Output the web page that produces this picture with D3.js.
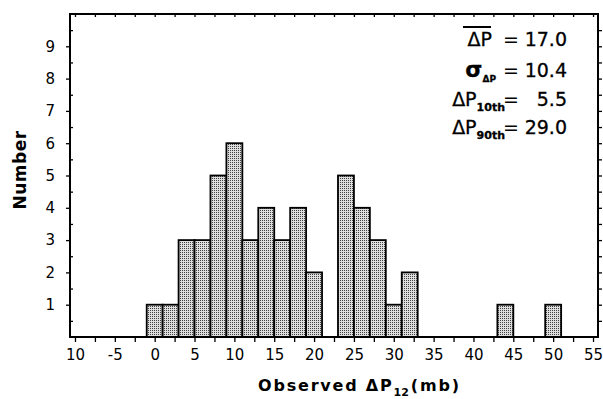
<!DOCTYPE html>
<html>
<head>
<meta charset="utf-8">
<script src="https://cdn.jsdelivr.net/npm/d3@7"></script>
<style>
  body { margin: 0; background: #fff; }
  svg { display: block; }
</style>
</head>
<body>
<script>
// histogram bins (lower edge, each bin is 2 mb wide) and counts
var binLo  = [-1, 1, 3, 5, 7, 9, 11, 13, 15, 17, 19, 23, 25, 27, 29, 31, 43, 49];
var counts = [ 1, 1, 3, 3, 5, 6,  3,  4,  3,  4,  2,  5,  4,  3,  1,  2,  1,  1];
var binWidth = 2;

var xTickValues = [-10, -5, 0, 5, 10, 15, 20, 25, 30, 35, 40, 45, 50, 55];
var xTickLabels = ['10', '-5', '0', '5', '10', '15', '20', '25', '30', '35', '40', '45', '50', '55']; // first one has no minus in the original
var yTickValues = [1, 2, 3, 4, 5, 6, 7, 8, 9];

// stats box
var statNames  = ['\u0394P', '\u03C3', '\u0394P', '\u0394P'];
var statSubs   = ['', '\u0394P', '10th', '90th'];
var statValues = ['17.0', '10.4', '5.5', '29.0'];

var W = 603, H = 399;
var plotL = 70, plotR = 598, plotT = 14, plotB = 337;  // (window.top is reserved, so no "top" here)

var svg = d3.select('body').append('svg').attr('width', W).attr('height', H)

var x = d3.scaleLinear().domain([-10.625, 55.625]).range([plotL, plotR])
var y = d3.scaleLinear().domain([0, 10]).range([plotB, plotT])

// stipple fill for the bars
var pat = svg.append('defs').append('pattern')
  .attr('id', 'stipple')
  .attr('patternUnits', 'userSpaceOnUse')
  .attr('width', 2).attr('height', 2)
pat.append('rect').attr('width', 2).attr('height', 2).attr('fill', '#dedede')
pat.append('rect').attr('width', 1).attr('height', 1).attr('fill', '#404040')

// bars
svg.selectAll('rect.bar')
  .data(binLo)
  .enter().append('rect')
    .attr('class', 'bar')
    .attr('x', d => x(d))
    .attr('width', d => x(d + binWidth) - x(d))
    .attr('y', (d, i) => y(counts[i]))
    .attr('height', (d, i) => y(0) - y(counts[i]))
    .attr('fill', 'url(#stipple)')
    .attr('stroke', '#000')
    .attr('stroke-width', 1.8)

// axes (ticks only, the frame is drawn separately)
var tickFont = 'DejaVu Sans, sans-serif';

svg.append('g')
  .attr('transform', `translate(0, ${plotB})`)
  .call(d3.axisBottom(x).tickValues(xTickValues).tickFormat((d, i) => xTickLabels[i]).tickSize(5).tickPadding(7))
svg.append('g')
  .attr('transform', `translate(0, ${plotB})`)
  .call(d3.axisBottom(x).tickValues(d3.range(-7.5, 55, 5)).tickFormat('').tickSize(5))
svg.append('g')
  .attr('transform', `translate(0, ${plotT})`)
  .call(d3.axisBottom(x).tickValues(d3.range(-10, 55.1, 2.5)).tickFormat('').tickSize(3))

svg.append('g')
  .attr('transform', `translate(${plotL}, 0)`)
  .call(d3.axisLeft(y).tickValues(yTickValues).tickSize(4).tickPadding(11))
svg.append('g')
  .attr('transform', `translate(${plotL}, 0)`)
  .call(d3.axisRight(y).tickValues(d3.range(0.5, 10, 1)).tickFormat('').tickSize(3))
svg.append('g')
  .attr('transform', `translate(${plotR}, 0)`)
  .call(d3.axisRight(y).tickValues(d3.range(0.5, 10, 0.5)).tickFormat('').tickSize(4))

svg.selectAll('.domain').remove()
svg.selectAll('.tick line').attr('stroke', '#000').attr('stroke-width', 1.3)
svg.selectAll('.tick text')
  .attr('font-family', tickFont)
  .attr('font-size', 15)
  .attr('fill', '#000')

// frame
svg.append('rect')
  .attr('x', plotL).attr('y', plotT)
  .attr('width', plotR - plotL).attr('height', plotB - plotT)
  .attr('fill', 'none')
  .attr('stroke', '#000')
  .attr('stroke-width', 2)

// axis titles
svg.append('text')
  .attr('transform', 'translate(20, 170) rotate(-90)')
  .attr('text-anchor', 'middle')
  .attr('dominant-baseline', 'central')
  .attr('font-family', tickFont)
  .attr('font-weight', 'bold')
  .attr('font-size', 17)
  .attr('letter-spacing', 0.5)
  .text('Number')

var xt = svg.append('text')
  .attr('x', 258).attr('y', 391)
  .attr('font-family', tickFont)
  .attr('font-weight', 'bold')
  .attr('font-size', 16)
  .attr('letter-spacing', 1.8)
xt.append('tspan').text('Observed \u0394P')
xt.append('tspan').attr('font-size', 11).attr('dy', 5).attr('letter-spacing', 0).text('12')
xt.append('tspan').attr('dy', -5).attr('dx', 2).text('(mb)')

// stats box
var lineY = [46, 77, 106, 134];
var nameEnd = [492, 496, 505, 505];
var eqX = 511, valEnd = 567;

statNames.forEach((n, i) => {
  var t = svg.append('text')
    .attr('x', nameEnd[i]).attr('y', lineY[i])
    .attr('text-anchor', 'end')
    .attr('font-family', tickFont)
    .attr('font-size', 19)
    .attr('stroke', '#000').attr('stroke-width', 0.3)
  t.append('tspan').attr('font-size', i == 1 ? 22 : 19).attr('font-weight', i == 1 ? 'bold' : 'normal').text(n)
  if (statSubs[i]) {
    t.append('tspan')
      .attr('dy', 5)
      .attr('font-size', i == 1 ? 9 : 11)
      .attr('font-weight', 'bold')
      .text(statSubs[i])
  }
  svg.append('text')
    .attr('x', eqX).attr('y', lineY[i])
    .attr('text-anchor', 'middle')
    .attr('font-family', tickFont)
    .attr('font-size', 19)
    .text('=')
  svg.append('text')
    .attr('x', valEnd).attr('y', lineY[i])
    .attr('text-anchor', 'end')
    .attr('font-family', tickFont)
    .attr('font-size', 19)
    .attr('stroke', '#000').attr('stroke-width', 0.3)
    .text(statValues[i])
})

// overbar on the mean
svg.append('line')
  .attr('x1', 463).attr('x2', 491)
  .attr('y1', 27).attr('y2', 27)
  .attr('stroke', '#000')
  .attr('stroke-width', 2)
</script>
</body>
</html>
